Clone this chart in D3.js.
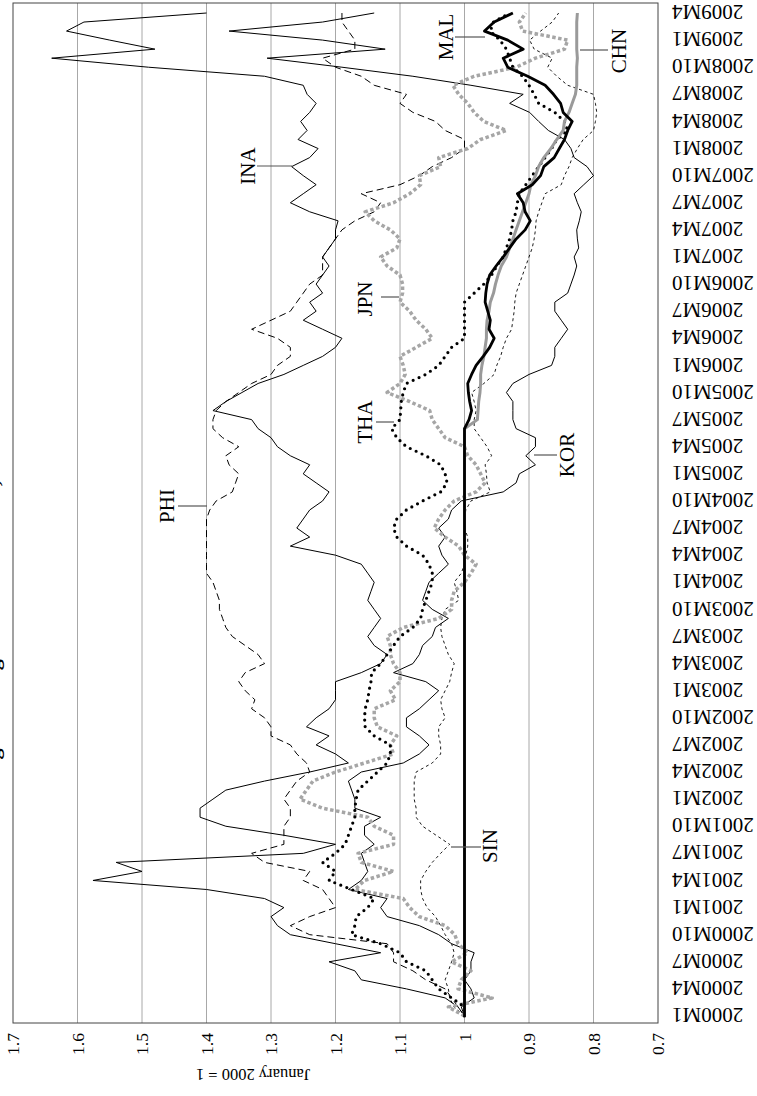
<!DOCTYPE html>
<html><head><meta charset="utf-8">
<script src="https://cdn.jsdelivr.net/npm/d3@7"></script>
<style>body{margin:0;background:#fff}svg{display:block}</style>
</head><body>
<svg id="chart" width="757" height="1096"></svg>
<script>
// ---- categories ----
const months = [];
for (let yr = 2000; yr <= 2009; yr++) for (let m = 1; m <= 12; m++) { if (yr === 2009 && m > 4) break; months.push(yr + "M" + m); }
const monthTicks = months.filter((d, i) => i % 3 === 0);
const valueTicks = [0.7, 0.8, 0.9, 1.0, 1.1, 1.2, 1.3, 1.4, 1.5, 1.6, 1.7];

// ---- series (January 2000 = 1) ----
const INA = [
1.00,1.01,1.03,1.09,1.16,1.17,1.21,1.13,1.20,1.27,1.29,1.30,
1.28,1.31,1.40,1.576,1.50,1.54,1.25,1.20,1.28,1.37,1.41,1.41,
1.39,1.37,1.31,1.24,1.18,1.20,1.23,1.21,1.245,1.23,1.21,1.20,
1.20,1.20,1.16,1.13,1.12,1.14,1.15,1.14,1.13,1.14,1.15,1.145,
1.14,1.15,1.16,1.20,1.27,1.24,1.26,1.25,1.24,1.22,1.21,1.23,
1.25,1.24,1.27,1.29,1.30,1.32,1.33,1.39,1.37,1.345,1.32,1.28,
1.25,1.22,1.20,1.19,1.22,1.25,1.23,1.24,1.22,1.23,1.22,1.21,
1.22,1.21,1.20,1.20,1.196,1.24,1.27,1.25,1.23,1.25,1.268,1.24,
1.227,1.258,1.244,1.254,1.24,1.23,1.244,1.25,1.31,1.49,1.64,1.48,
1.55,1.617,1.59,1.40];
const KOR = [
1.00,1.005,0.985,0.99,1.00,0.99,0.99,0.985,1.02,1.04,1.07,1.12,
1.13,1.12,1.18,1.16,1.15,1.155,1.16,1.14,1.155,1.155,1.13,1.17,
1.17,1.175,1.18,1.16,1.095,1.07,1.055,1.07,1.09,1.09,1.07,1.055,
1.04,1.06,1.11,1.08,1.07,1.065,1.05,1.045,1.025,1.05,1.065,1.06,
1.055,1.04,1.025,1.035,1.04,1.03,1.04,1.025,1.02,1.005,0.94,0.92,
0.915,0.89,0.905,0.89,0.89,0.92,0.925,0.925,0.925,0.935,0.925,0.90,
0.865,0.86,0.86,0.85,0.84,0.85,0.86,0.86,0.84,0.835,0.83,0.826,
0.83,0.823,0.825,0.826,0.822,0.819,0.825,0.83,0.815,0.80,0.81,0.83,
0.835,0.845,0.87,0.885,0.899,0.93,0.909,0.99,1.08,1.19,1.306,1.123,
1.22,1.365,1.22,1.14];
const PHI = [
1.00,1.01,1.02,1.03,1.06,1.08,1.11,1.11,1.12,1.24,1.27,1.24,
1.20,1.21,1.22,1.25,1.24,1.31,1.33,1.28,1.28,1.28,1.27,1.27,
1.28,1.27,1.26,1.24,1.245,1.26,1.27,1.30,1.30,1.31,1.33,1.325,
1.34,1.35,1.34,1.31,1.32,1.34,1.36,1.37,1.375,1.38,1.38,1.385,
1.39,1.40,1.40,1.40,1.40,1.40,1.40,1.40,1.395,1.385,1.36,1.355,
1.35,1.365,1.37,1.35,1.375,1.39,1.39,1.385,1.37,1.35,1.33,1.30,
1.29,1.27,1.27,1.29,1.33,1.30,1.27,1.26,1.25,1.24,1.22,1.22,
1.22,1.21,1.20,1.19,1.17,1.14,1.13,1.16,1.10,1.07,1.05,1.02,
1.00,1.00,1.03,1.045,1.08,1.10,1.09,1.14,1.16,1.20,1.22,1.17,
1.17,1.18,1.19,1.19];
const SIN = [
1.00,1.016,1.023,1.025,1.03,1.025,1.02,1.016,1.02,1.03,1.037,1.045,
1.058,1.065,1.068,1.068,1.06,1.05,1.037,1.023,1.044,1.065,1.075,1.075,
1.078,1.078,1.078,1.075,1.05,1.037,1.037,1.04,1.04,1.03,1.035,1.037,
1.03,1.023,1.02,1.016,1.025,1.03,1.035,1.037,1.035,1.03,1.009,1.012,
1.016,1.005,1.00,0.998,0.995,0.995,1.00,1.00,0.998,0.99,0.96,0.965,
0.966,0.968,0.958,0.965,0.975,0.985,0.985,0.982,0.985,0.989,0.97,0.954,
0.95,0.944,0.94,0.935,0.927,0.925,0.923,0.922,0.92,0.915,0.91,0.905,
0.90,0.895,0.892,0.89,0.889,0.885,0.88,0.875,0.85,0.845,0.838,0.833,
0.825,0.816,0.80,0.797,0.795,0.797,0.80,0.84,0.857,0.871,0.864,0.892,
0.899,0.882,0.864,0.854];
const THA = [
1.00,1.00,1.02,1.04,1.05,1.06,1.09,1.10,1.13,1.175,1.17,1.168,
1.15,1.14,1.175,1.21,1.20,1.22,1.20,1.185,1.18,1.175,1.17,1.17,
1.168,1.165,1.15,1.135,1.12,1.115,1.115,1.14,1.154,1.155,1.154,1.15,
1.148,1.145,1.144,1.13,1.12,1.11,1.10,1.08,1.068,1.065,1.06,1.055,
1.05,1.05,1.055,1.065,1.09,1.105,1.11,1.105,1.09,1.065,1.037,1.027,
1.03,1.037,1.06,1.09,1.105,1.113,1.10,1.099,1.098,1.095,1.09,1.06,
1.04,1.03,1.02,1.00,1.00,1.00,1.00,1.00,0.985,0.97,0.958,0.95,
0.94,0.935,0.93,0.927,0.925,0.92,0.918,0.915,0.905,0.895,0.885,0.875,
0.865,0.857,0.84,0.845,0.86,0.885,0.892,0.90,0.91,0.925,0.93,0.935,
0.945,0.96,0.955,0.93];
const JPN = [
1.00,1.025,0.957,1.01,1.005,0.99,1.02,0.995,1.01,1.015,1.03,1.07,
1.085,1.095,1.17,1.155,1.11,1.16,1.165,1.11,1.11,1.14,1.15,1.22,
1.255,1.245,1.235,1.20,1.155,1.11,1.115,1.105,1.135,1.14,1.14,1.107,
1.115,1.10,1.10,1.11,1.115,1.115,1.12,1.095,1.04,1.02,1.02,1.016,
1.00,0.99,0.982,1.00,1.009,1.03,1.047,1.04,1.03,1.016,0.982,0.968,
0.975,0.982,0.995,1.00,1.03,1.04,1.05,1.054,1.085,1.12,1.10,1.092,
1.095,1.10,1.075,1.05,1.06,1.075,1.085,1.10,1.096,1.096,1.10,1.12,
1.13,1.105,1.10,1.115,1.14,1.154,1.11,1.085,1.068,1.07,1.037,1.04,
0.995,0.975,0.935,0.97,0.985,0.995,1.009,1.018,0.985,0.92,0.89,0.845,
0.84,0.91,0.915,0.905];
const CHN = [
1,1,1,1,1,1,1,1,1,1,1,1,
1,1,1,1,1,1,1,1,1,1,1,1,
1,1,1,1,1,1,1,1,1,1,1,1,
1,1,1,1,1,1,1,1,1,1,1,1,
1,1,1,1,1,1,1,1,1,1,1,1,
1,1,1,1,1,1,0.980,0.979,0.978,0.976,0.975,0.975,
0.973,0.970,0.968,0.966,0.966,0.965,0.962,0.960,0.955,0.952,0.948,0.943,
0.935,0.930,0.925,0.920,0.915,0.910,0.905,0.900,0.897,0.890,0.885,0.877,
0.866,0.857,0.847,0.845,0.838,0.833,0.828,0.826,0.826,0.826,0.825,0.826,
0.826,0.826,0.826,0.825];
const MAL = [
1,1,1,1,1,1,1,1,1,1,1,1,
1,1,1,1,1,1,1,1,1,1,1,1,
1,1,1,1,1,1,1,1,1,1,1,1,
1,1,1,1,1,1,1,1,1,1,1,1,
1,1,1,1,1,1,1,1,1,1,1,1,
1,1,1,1,1,1,0.993,0.989,0.992,0.994,0.995,0.989,
0.982,0.971,0.961,0.954,0.962,0.960,0.964,0.968,0.967,0.965,0.961,0.951,
0.940,0.930,0.920,0.906,0.898,0.906,0.909,0.918,0.895,0.882,0.877,0.861,
0.853,0.845,0.840,0.833,0.847,0.851,0.862,0.875,0.902,0.933,0.940,0.909,
0.933,0.969,0.954,0.925];

const seriesList = [
  {name:"INA", values:INA, stroke:"#000", width:1, dash:null, cap:"butt"},
  {name:"KOR", values:KOR, stroke:"#000", width:1, dash:null, cap:"butt"},
  {name:"PHI", values:PHI, stroke:"#000", width:1, dash:"7,4", cap:"butt"},
  {name:"SIN", values:SIN, stroke:"#000", width:0.9, dash:"3,3", cap:"butt"},
  {name:"JPN", values:JPN, stroke:"#a6a6a6", width:3.5, dash:"3.5,2.5", cap:"butt"},
  {name:"THA", values:THA, stroke:"#000", width:3.2, dash:"0,6.5", cap:"round"},
  {name:"CHN", values:CHN, stroke:"#9a9a9a", width:3, dash:null, cap:"butt"},
  {name:"MAL", values:MAL, stroke:"#000", width:2.8, dash:null, cap:"butt"}
];

// annotation layout (image coordinates: label centre, leader line)
const annotations = [
  {text:"INA", cx:248, cy:166, lx1:257, lx2:292, ly:166},
  {text:"PHI", cx:167, cy:506, lx1:178, lx2:207, ly:506},
  {text:"THA", cx:365, cy:422, lx1:376, lx2:394, ly:422},
  {text:"JPN", cx:365, cy:299, lx1:381, lx2:399, ly:297},
  {text:"SIN", cx:490, cy:846, lx1:451, lx2:481, ly:847},
  {text:"KOR", cx:567, cy:455, lx1:534, lx2:557, ly:455},
  {text:"MAL", cx:446, cy:37,  lx1:455, lx2:485, ly:37},
  {text:"CHN", cx:619, cy:51,  lx1:580, lx2:608, ly:50}
];

const FONT = "'Liberation Serif','Times New Roman',serif";
const W = 1096, H = 757;              // landscape frame, rotated onto the page
const svg = d3.select("#chart");
const g = svg.append("g").attr("transform", `translate(0,${W}) rotate(-90)`);
const toL = (ix, iy) => [W - iy, ix]; // image -> landscape

const plot = {x0:73, x1:1093, y0:13, y1:658};
const x = d3.scalePoint().domain(months).range([80, 1083]).padding(0);
const y = d3.scaleLinear().domain([0.7, 1.7]).range([plot.y1, plot.y0]);

// gridlines
g.append("g").selectAll("line").data(valueTicks.filter(v => v > 0.7 && v < 1.7)).join("line")
  .attr("x1", plot.x0).attr("x2", plot.x1)
  .attr("y1", d => y(d)).attr("y2", d => y(d))
  .attr("stroke", "#a8a8a8").attr("stroke-width", 1);

// frame
g.append("rect").attr("x", plot.x0).attr("y", plot.y0)
  .attr("width", plot.x1 - plot.x0).attr("height", plot.y1 - plot.y0)
  .attr("fill", "none").attr("stroke", "#444").attr("stroke-width", 1);

// value axis
const yAxis = g.append("g").attr("transform", `translate(${plot.x0},0)`)
  .call(d3.axisLeft(y).tickValues(valueTicks).tickSize(0).tickPadding(10)
    .tickFormat(d => d === 1 ? "1" : d3.format(".1f")(d)));
yAxis.select(".domain").remove();
yAxis.selectAll("text").attr("font-family", FONT).attr("font-size", 17.5).attr("fill", "#000");

// month axis
const xAxis = g.append("g").attr("transform", `translate(0,${plot.y1})`)
  .call(d3.axisBottom(x).tickValues(monthTicks).tickSize(0));
xAxis.select(".domain").remove();
xAxis.selectAll("text").attr("font-family", FONT).attr("font-size", 21).attr("fill", "#000")
  .attr("transform", "rotate(-90)").attr("text-anchor", "end")
  .attr("x", -14).attr("y", 0).attr("dy", "0.35em");

// axis title
g.append("text").attr("transform", `translate(21,253) rotate(-90)`)
  .attr("text-anchor", "middle").attr("dy", "0.35em")
  .attr("font-family", FONT).attr("font-size", 16.5).text("January 2000 = 1");

// chart title (mostly outside the page, only descenders show)
g.append("text").attr("x", 560).attr("y", -1).attr("text-anchor", "middle")
  .attr("font-family", FONT).attr("font-size", 22).attr("font-weight", "bold")
  .text("Exchange rates against the US dollar, selected Asian economies");

// series
const line = d3.line().x((d, i) => x(months[i])).y(d => y(d));
g.append("clipPath").attr("id", "pc").append("rect")
  .attr("x", plot.x0).attr("y", plot.y0).attr("width", plot.x1 - plot.x0).attr("height", plot.y1 - plot.y0);
const lines = g.append("g").attr("clip-path", "url(#pc)");
seriesList.forEach(s => {
  lines.append("path").datum(s.values).attr("d", line)
    .attr("fill", "none").attr("stroke", s.stroke).attr("stroke-width", s.width)
    .attr("stroke-dasharray", s.dash).attr("stroke-linecap", s.cap).attr("stroke-linejoin", "round");
});

// annotations
annotations.forEach(a => {
  const [X1, Y1] = toL(a.lx1, a.ly), [X2, Y2] = toL(a.lx2, a.ly);
  g.append("line").attr("x1", X1).attr("y1", Y1).attr("x2", X2).attr("y2", Y2)
    .attr("stroke", "#555").attr("stroke-width", 1.2);
  const [cX, cY] = toL(a.cx, a.cy);
  g.append("text").attr("x", cX).attr("y", cY).attr("dy", "0.35em").attr("text-anchor", "middle")
    .attr("font-family", FONT).attr("font-size", 21).text(a.text);
});
</script>
</body></html>
